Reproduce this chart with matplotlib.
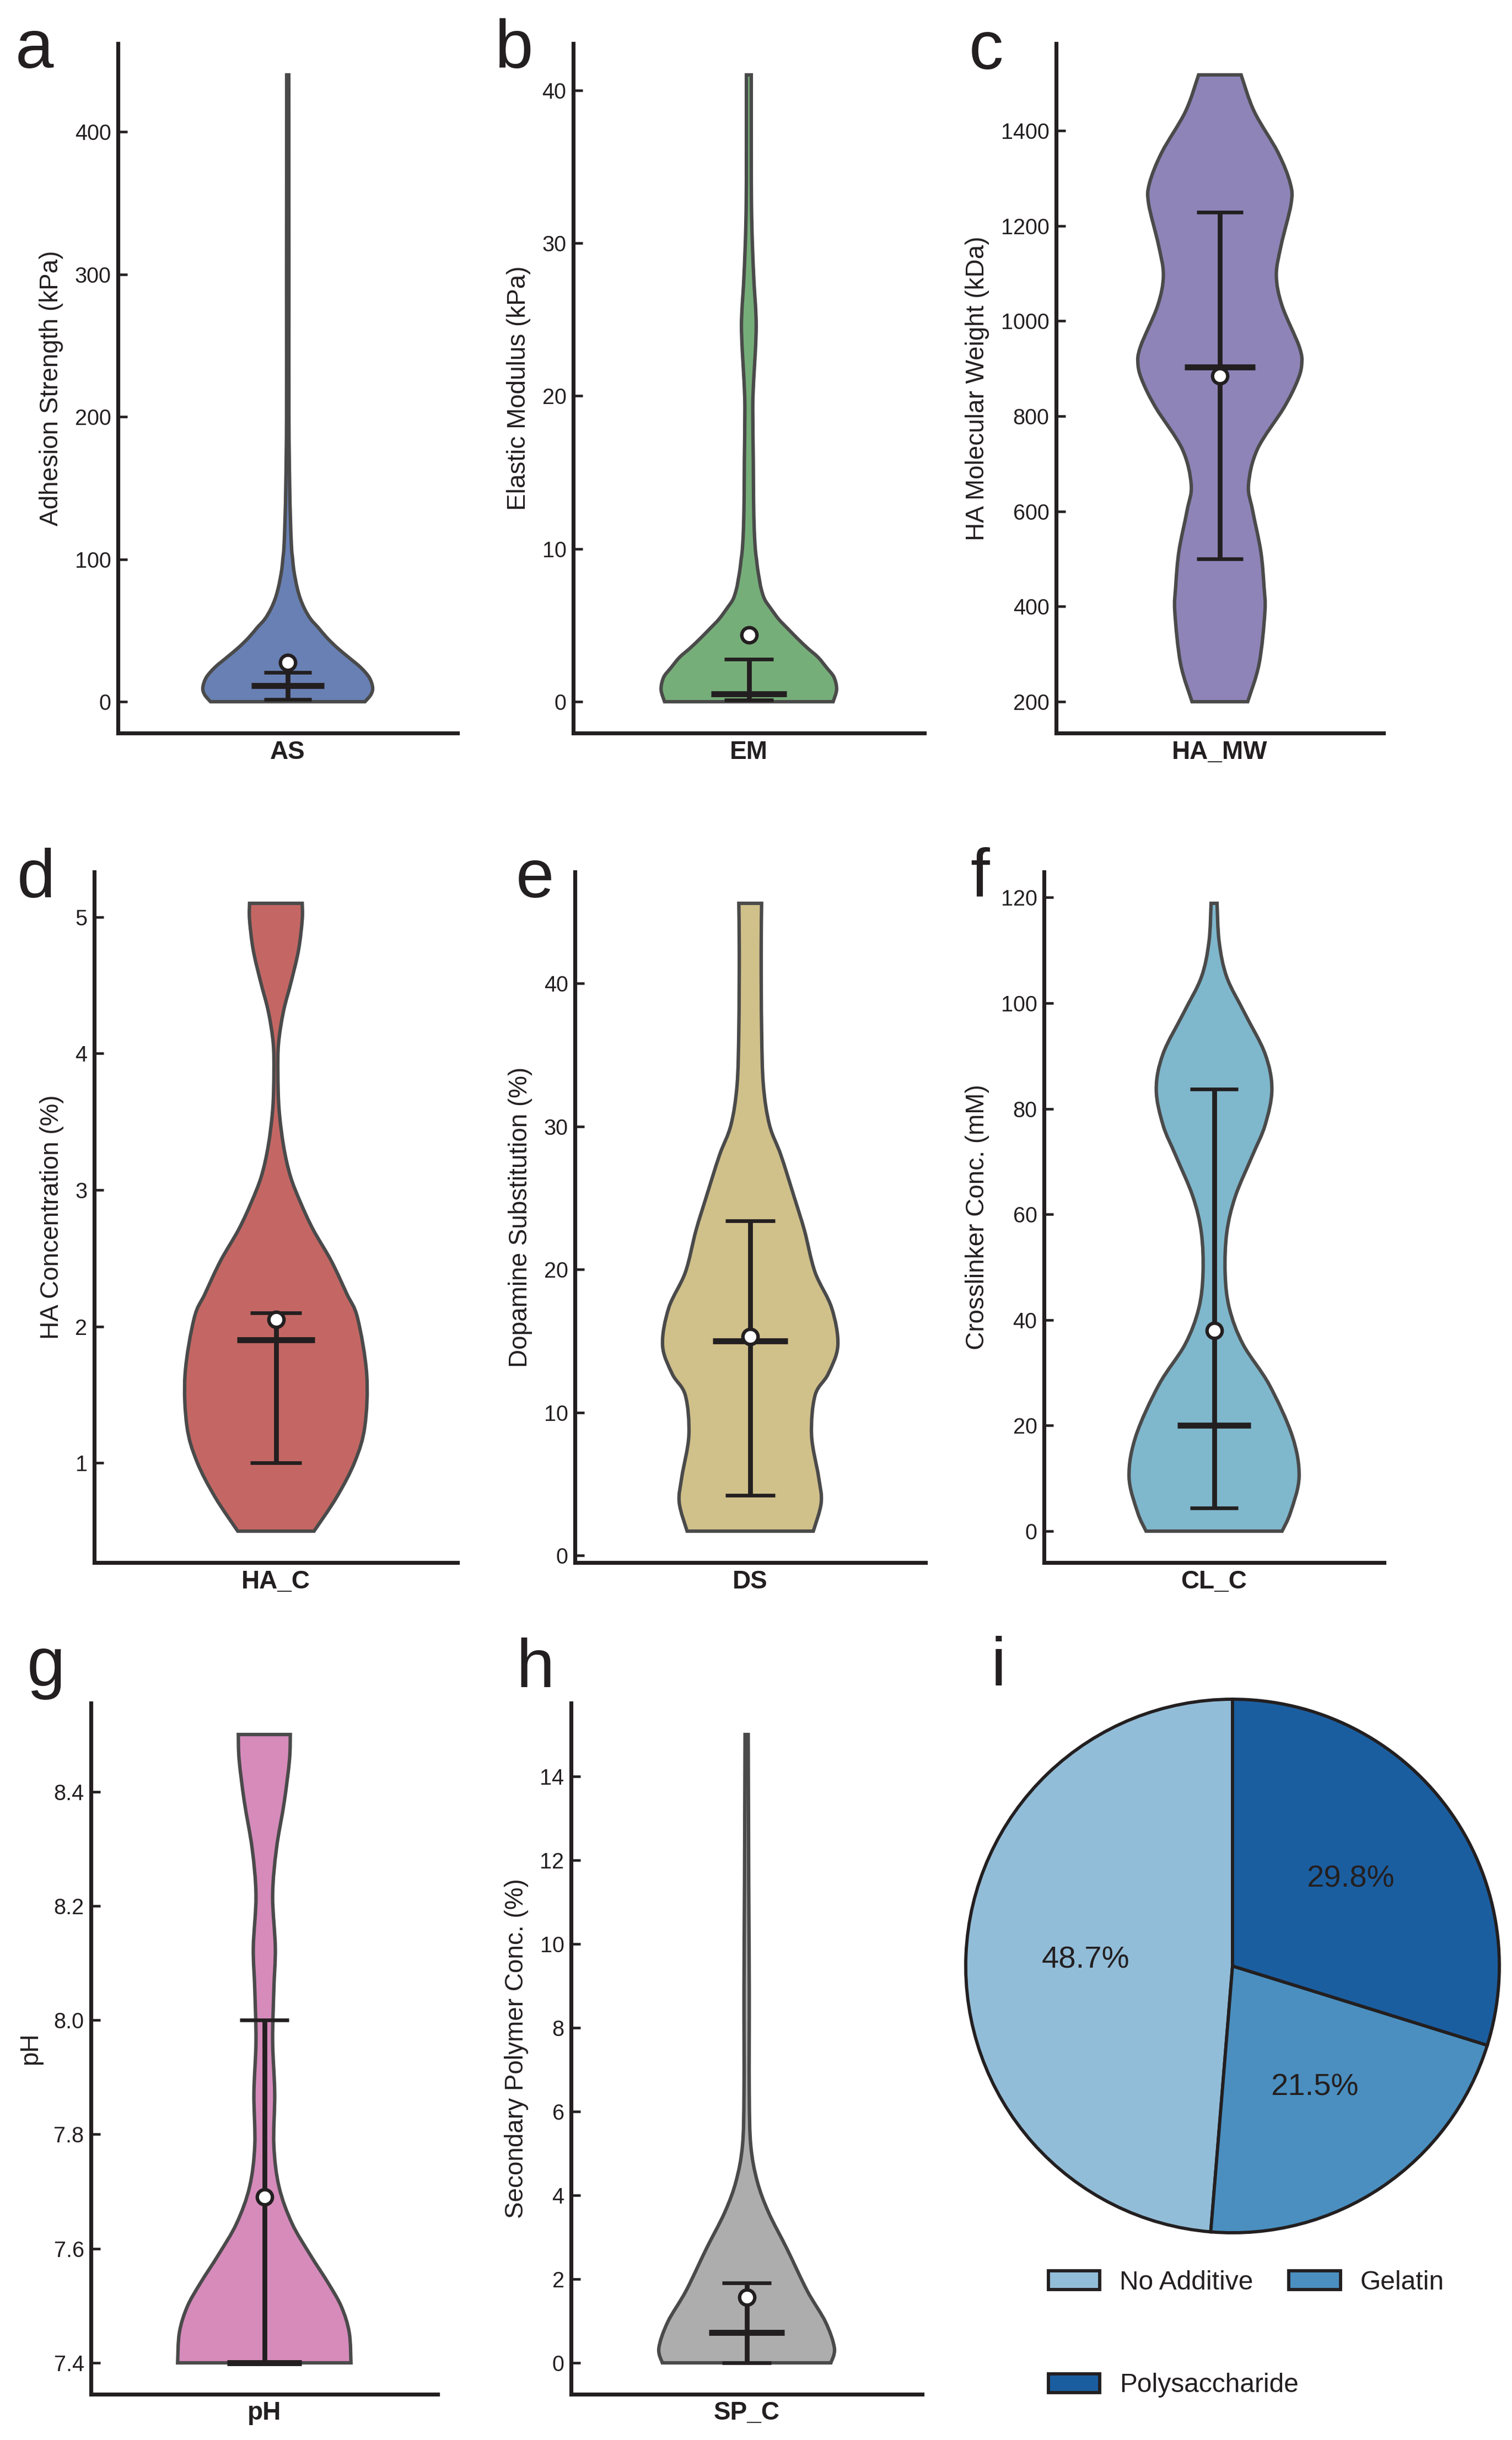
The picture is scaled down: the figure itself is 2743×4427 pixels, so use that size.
import numpy as np
import matplotlib
matplotlib.use('Agg')
import matplotlib.pyplot as plt
from matplotlib.path import Path
from matplotlib.patches import PathPatch

plt.rcParams['font.family'] = ['Liberation Sans', 'DejaVu Sans']

W, H = 2743, 4427
INK = '#231f20'

# violin outlines: value, relative width (1 = widest)
as_y = [0, 5, 10, 17, 24, 31, 38, 45, 52, 58, 65, 72, 79, 86, 93, 100, 108, 128, 155, 200, 300, 440]
as_d = [0.91, 0.98, 1.0, 0.96, 0.86, 0.72, 0.58, 0.46, 0.36, 0.27, 0.20, 0.15, 0.115, 0.09, 0.07,
        0.058, 0.045, 0.032, 0.022, 0.014, 0.014, 0.012]
em_y = [0, 0.8, 1.6, 2.2, 2.9, 3.5, 4.1, 4.8, 5.4, 6.1, 6.7, 7.4, 8.0, 8.7, 9.3, 9.9, 11.2, 13.2,
        15.7, 19.2, 21.0, 23.0, 24.6, 26.0, 27.3, 30.0, 32.6, 36.0, 41.0]
em_d = [0.96, 1.0, 0.97, 0.89, 0.79, 0.67, 0.56, 0.44, 0.34, 0.25, 0.18, 0.14, 0.12, 0.10, 0.088,
        0.075, 0.062, 0.054, 0.051, 0.045, 0.055, 0.075, 0.084, 0.075, 0.06, 0.04, 0.03, 0.028, 0.028]
mw_y = [200, 280, 388, 441, 516, 602, 656, 731, 817, 871, 908, 946, 1032, 1096, 1160, 1246, 1289,
        1354, 1440, 1517]
mw_d = [0.34, 0.48, 0.55, 0.54, 0.50, 0.40, 0.35, 0.46, 0.78, 0.94, 1.0, 0.97, 0.76, 0.69, 0.75,
        0.87, 0.86, 0.71, 0.42, 0.26]
hac_y = [0.5, 0.75, 1.01, 1.27, 1.65, 2.06, 2.24, 2.48, 2.71, 2.91, 3.10, 3.32, 3.59, 3.86, 4.08,
         4.31, 4.53, 4.76, 4.98, 5.1]
hac_d = [0.42, 0.67, 0.87, 0.98, 1.0, 0.90, 0.78, 0.61, 0.41, 0.27, 0.16, 0.085, 0.035, 0.022, 0.03,
         0.084, 0.17, 0.25, 0.29, 0.29]
ds_y = [1.7, 3.7, 5.5, 8.4, 11.2, 12.7, 14.7, 17.3, 19.8, 22.7, 25.1, 28.0, 30.1, 32.9, 36.8, 42.2, 45.6]
ds_d = [0.72, 0.81, 0.78, 0.70, 0.74, 0.89, 1.0, 0.93, 0.74, 0.62, 0.50, 0.35, 0.22, 0.15, 0.13,
        0.125, 0.13]
cl_y = [0, 3.6, 10.3, 18.0, 27.7, 35.4, 42.2, 48.9, 56.6, 63.4, 71.1, 76.9, 83.7, 90.4, 98.1, 104.9,
        111.6, 118.9]
cl_d = [0.80, 0.90, 1.0, 0.92, 0.65, 0.34, 0.18, 0.13, 0.15, 0.25, 0.45, 0.60, 0.68, 0.60, 0.36, 0.15,
        0.06, 0.035]
ph_y = [7.4, 7.453, 7.498, 7.539, 7.589, 7.644, 7.708, 7.781, 7.872, 7.963, 8.054, 8.127, 8.218, 8.30,
        8.382, 8.455, 8.5]
ph_d = [1.0, 0.98, 0.89, 0.74, 0.53, 0.32, 0.17, 0.11, 0.12, 0.096, 0.11, 0.127, 0.096, 0.14, 0.23,
        0.29, 0.30]
sp_y = [0, 0.35, 0.97, 1.72, 2.72, 3.59, 4.34, 5.2, 6.46, 8.95, 11.45, 15.0]
sp_d = [0.96, 1.0, 0.90, 0.69, 0.46, 0.25, 0.12, 0.047, 0.03, 0.03, 0.024, 0.018]

# q1, median, q3, mean
stats = {
    'AS': (1.7, 11.4, 20.4, 27.7),
    'EM': (0.1, 0.5, 2.77, 4.35),
    'HA_MW': (500, 903, 1229, 885),
    'HA_C': (1.0, 1.9, 2.1, 2.05),
    'DS': (4.2, 15.0, 23.4, 15.3),
    'CL_C': (4.4, 20.0, 83.7, 38.0),
    'pH': (7.4, 7.4, 8.0, 7.69),
    'SP_C': (0.0, 0.72, 1.91, 1.56),
}

names = ['AS', 'EM', 'HA_MW', 'HA_C', 'DS', 'CL_C', 'pH', 'SP_C']
ylabels = ['Adhesion Strength (kPa)', 'Elastic Modulus (kPa)', 'HA Molecular Weight (kDa)',
           'HA Concentration (%)', 'Dopamine Substitution (%)', 'Crosslinker Conc. (mM)', 'pH',
           'Secondary Polymer Conc. (%)']
yticks = [[0, 100, 200, 300, 400], [0, 10, 20, 30, 40], [200, 400, 600, 800, 1000, 1200, 1400],
          [1, 2, 3, 4, 5], [0, 10, 20, 30, 40], [0, 20, 40, 60, 80, 100, 120],
          [7.4, 7.6, 7.8, 8.0, 8.2, 8.4], [0, 2, 4, 6, 8, 10, 12, 14]]
ytick_labels = [['0', '100', '200', '300', '400'], ['0', '10', '20', '30', '40'],
                ['200', '400', '600', '800', '1000', '1200', '1400'], ['1', '2', '3', '4', '5'],
                ['0', '10', '20', '30', '40'], ['0', '20', '40', '60', '80', '100', '120'],
                ['7.4', '7.6', '7.8', '8.0', '8.2', '8.4'], ['0', '2', '4', '6', '8', '10', '12', '14']]
profiles = [(as_y, as_d), (em_y, em_d), (mw_y, mw_d), (hac_y, hac_d), (ds_y, ds_d), (cl_y, cl_d),
            (ph_y, ph_d), (sp_y, sp_d)]
colors = ['#6880b4', '#76ae79', '#8e84b8', '#c46764', '#d0c08a', '#7fb7cc', '#d68bbb', '#adadad']

pie_labels = ['No Additive', 'Gelatin', 'Polysaccharide']
pie_shares = [48.7, 21.5, 29.8]
pie_colors = ['#92bdd8', '#4a8fc0', '#1b5ea0']

# axes boxes in pixels: left, top, right, bottom
boxes = [(214, 79, 830, 1330), (1040, 79, 1677, 1330), (1916, 79, 2510, 1330),
         (171, 1582, 830, 2835), (1043, 1582, 1679, 2835), (1894, 1582, 2511, 2835),
         (165, 3090, 794, 4344), (1036, 3090, 1673, 4344)]
letters = ['a', 'b', 'c', 'd', 'e', 'f', 'g', 'h', 'i']
letter_pos = [(28, 123), (898, 123), (1758, 125), (31, 1628), (936, 1628), (1760, 1626),
              (49, 3058), (936, 3061), (1798, 3058)]

fig = plt.figure(figsize=(W / 300, H / 300), dpi=300, facecolor='white')


def add_box(l, t, r, b):
    return fig.add_axes([l / W, 1 - b / H, (r - l) / W, (b - t) / H])


def smooth_side(pts, verts, codes):
    # smooth curve through the read points (Catmull-Rom as cubic Bezier)
    n = len(pts)
    for k in range(n - 1):
        p0 = pts[max(k - 1, 0)]
        p1 = pts[k]
        p2 = pts[k + 1]
        p3 = pts[min(k + 2, n - 1)]
        verts += [p1 + (p2 - p0) / 6, p2 - (p3 - p1) / 6, p2]
        codes += [Path.CURVE4] * 3


def violin_patch(ys, half, **kw):
    ys = np.asarray(ys, float)
    right = np.column_stack([half, ys])
    left = np.column_stack([-half[::-1], ys[::-1]])
    verts = [right[0]]
    codes = [Path.MOVETO]
    smooth_side(right, verts, codes)
    verts.append(left[0])
    codes.append(Path.LINETO)
    smooth_side(left, verts, codes)
    verts.append(right[0])
    codes.append(Path.CLOSEPOLY)
    return PathPatch(Path(np.array(verts), codes), **kw)


for i, name in enumerate(names):
    ax = add_box(*boxes[i])
    ys, dens = profiles[i]
    half = np.array(dens) / max(dens) * 0.25
    ax.add_patch(violin_patch(ys, half, facecolor=colors[i], edgecolor='#4a4a4a',
                              linewidth=1.5, zorder=1))
    q1, med, q3, mean = stats[name]
    ax.vlines(0, q1, q3, color=INK, linewidth=2.1, zorder=3)
    ax.hlines([q1, q3], -0.07, 0.07, color=INK, linewidth=1.6, zorder=3)
    ax.hlines(med, -0.107, 0.107, color=INK, linewidth=2.6, zorder=3)
    ax.plot(0, mean, 'o', ms=6.6, mfc='white', mec=INK, mew=1.5, zorder=4)
    ax.set_xlim(-0.5, 0.5)
    lo, hi = min(ys), max(ys)
    ax.set_ylim(lo - 0.05 * (hi - lo), hi + 0.05 * (hi - lo))
    ax.set_xticks([0])
    ax.set_xticklabels([name], fontsize=11, fontweight='bold', color=INK)
    ax.set_yticks(yticks[i])
    ax.set_yticklabels(ytick_labels[i], fontsize=9.5, color=INK)
    ax.set_ylabel(ylabels[i], fontsize=11, color=INK, labelpad=5)
    ax.tick_params(axis='y', direction='in', length=4, width=1.1, pad=3, color=INK)
    ax.tick_params(axis='x', length=0, pad=3)
    for s in ['top', 'right']:
        ax.spines[s].set_visible(False)
    for s in ['left', 'bottom']:
        ax.spines[s].set_linewidth(1.7)
        ax.spines[s].set_color(INK)

# pie
cx, cy, rad = 2236, 3567, 484
half_box = rad * 1.25
axp = add_box(cx - half_box, cy - half_box, cx + half_box, cy + half_box)
wedges, texts, autotexts = axp.pie(pie_shares, colors=pie_colors, startangle=90, counterclock=True,
                                   autopct='%.1f%%', pctdistance=0.55,
                                   wedgeprops=dict(edgecolor=INK, linewidth=1.4),
                                   textprops=dict(fontsize=13.5, color=INK))
axp.set_xlim(-1.25, 1.25)
axp.set_ylim(-1.25, 1.25)

leg_kw = dict(loc='center left', bbox_transform=fig.transFigure, frameon=False, fontsize=11.5,
              handlelength=1.95, handleheight=0.72, handletextpad=0.75, columnspacing=1.35,
              borderpad=0, borderaxespad=0, labelcolor=INK)
leg1 = axp.legend(wedges[:2], pie_labels[:2], ncol=2, bbox_to_anchor=(1902 / W, 1 - 4141 / H), **leg_kw)
axp.add_artist(leg1)
axp.legend(wedges[2:], pie_labels[2:], ncol=1, bbox_to_anchor=(1902 / W, 1 - 4328 / H), **leg_kw)

for letter, (x, y) in zip(letters, letter_pos):
    fig.text(x / W, 1 - y / H, letter, fontsize=30, ha='left', va='baseline', color=INK)

fig.savefig('out.png', dpi=300, facecolor='white')
